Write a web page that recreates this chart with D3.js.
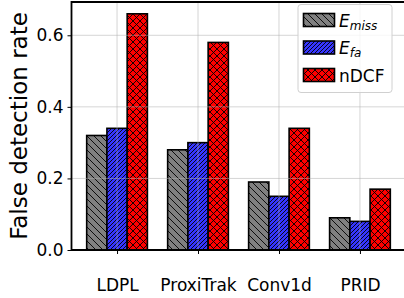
<!DOCTYPE html>
<html>
<head>
<meta charset="utf-8">
<script src="https://cdn.jsdelivr.net/npm/d3@7"></script>
<style>
  body { margin: 0; background: #fff; }
  svg { display: block; font-family: "DejaVu Sans", sans-serif; }
</style>
</head>
<body>
<div id="chart-area"></div>
<script>
// data
const categories = ["LDPL", "ProxiTrak", "Conv1d", "PRID"];
const eMiss = [0.32, 0.28, 0.19, 0.09];
const eFa = [0.34, 0.30, 0.15, 0.08];
const nDCF = [0.66, 0.58, 0.34, 0.17];
const yTicks = [0, 0.2, 0.4, 0.6];

const series = [
    {key: "miss", values: eMiss, fill: "#808080", hatch: "hatch-back"},
    {key: "fa", values: eFa, fill: "#3636ff", hatch: "hatch-fwd"},
    {key: "ndcf", values: nDCF, fill: "#ff0000", hatch: "hatch-cross"}
];

const width = 404,
    height = 298,
    barW = 0.25;

const svg = d3.select("#chart-area")
    .append("svg")
    .attr("width", width)
    .attr("height", height);

// hatch patterns
const defs = svg.append("defs");
function hatch(id, size, angles) {
    const p = defs.append("pattern")
        .attr("id", id)
        .attr("patternUnits", "userSpaceOnUse")
        .attr("width", size)
        .attr("height", size);
    angles.forEach(a => {
        const d = a > 0
            ? `M0,${size} L${size},0 M${-size / 2},${size / 2} L${size / 2},${-size / 2} M${size / 2},${size * 1.5} L${size * 1.5},${size / 2}`
            : `M0,0 L${size},${size} M${-size / 2},${size / 2} L${size / 2},${size * 1.5} M${size / 2},${-size / 2} L${size * 1.5},${size / 2}`;
        p.append("path").attr("d", d).attr("stroke", "#000").attr("stroke-width", 0.9).attr("fill", "none");
    });
}
hatch("hatch-back", 7, [-1]);
hatch("hatch-fwd", 4, [1]);
hatch("hatch-cross", 7, [1, -1]);

const x = d3.scaleLinear()
    .domain([-0.5625, categories.length - 1 + 0.5625])
    .range([71.5, 405.5]);

const y = d3.scaleLinear()
    .domain([0, 0.693])
    .range([250, 2]);

// bars
series.forEach((s, si) => {
    const g = svg.append("g");
    const off = (si - 1) * barW;
    g.selectAll("rect.fill")
        .data(s.values)
        .join("rect")
        .attr("x", (d, i) => x(i + off - barW / 2))
        .attr("y", d => y(d))
        .attr("width", x(barW) - x(0))
        .attr("height", d => y(0) - y(d))
        .attr("fill", s.fill);
    g.selectAll("rect.hatch")
        .data(s.values)
        .join("rect")
        .attr("x", (d, i) => x(i + off - barW / 2))
        .attr("y", d => y(d))
        .attr("width", x(barW) - x(0))
        .attr("height", d => y(0) - y(d))
        .attr("fill", `url(#${s.hatch})`)
        .attr("stroke", "#000")
        .attr("stroke-width", 1.6);
});

// grid on top, as in the original
const grid = svg.append("g")
    .attr("stroke", "#b0b0b0")
    .attr("stroke-opacity", 0.6)
    .attr("stroke-width", 0.9);
grid.selectAll("line.gy")
    .data(yTicks.slice(1))
    .join("line")
    .attr("x1", x.range()[0]).attr("x2", x.range()[1])
    .attr("y1", d => y(d)).attr("y2", d => y(d));
grid.selectAll("line.gx")
    .data(categories)
    .join("line")
    .attr("x1", (d, i) => x(i)).attr("x2", (d, i) => x(i))
    .attr("y1", y.range()[1]).attr("y2", y.range()[0]);

// axes
const yAxis = svg.append("g")
    .attr("transform", `translate(${x.range()[0]},0)`)
    .call(d3.axisLeft(y).tickValues(yTicks).tickFormat(d3.format(".1f")).tickSize(4).tickPadding(4));
const xAxis = svg.append("g")
    .attr("transform", `translate(0,${y(0)})`)
    .call(d3.axisBottom(x).tickValues(d3.range(categories.length)).tickFormat(i => categories[i]).tickSize(4).tickPadding(25));
[yAxis, xAxis].forEach(a => {
    a.select(".domain").remove();
    a.selectAll("text").attr("font-size", 17).attr("fill", "#000").attr("font-family", "DejaVu Sans");
    a.selectAll("line").attr("stroke", "#000").attr("stroke-width", 1);
});

// spines
svg.append("path")
    .attr("d", `M${x.range()[1]},${y.range()[1]} H${x.range()[0]} V${y.range()[0]} H${x.range()[1]}`)
    .attr("fill", "none")
    .attr("stroke", "#000")
    .attr("stroke-width", 1.8);

svg.append("text")
    .attr("transform", "translate(27,126) rotate(-90)")
    .attr("text-anchor", "middle")
    .attr("font-size", 23)
    .text("False detection rate");

// legend
const legend = svg.append("g");
legend.append("rect")
    .attr("x", 298).attr("y", 4.5)
    .attr("width", 94).attr("height", 88)
    .attr("rx", 3)
    .attr("fill", "#fff").attr("fill-opacity", 0.8)
    .attr("stroke", "#d0d0d0");
const labels = [["E", "miss"], ["E", "fa"], ["nDCF", null]];
series.forEach((s, i) => {
    const cy = 20 + i * 27.5;
    legend.append("rect")
        .attr("x", 303.5).attr("y", cy - 6.5)
        .attr("width", 31).attr("height", 13)
        .attr("fill", s.fill);
    legend.append("rect")
        .attr("x", 303.5).attr("y", cy - 6.5)
        .attr("width", 31).attr("height", 13)
        .attr("fill", `url(#${s.hatch})`)
        .attr("stroke", "#000").attr("stroke-width", 1.6);
    const t = legend.append("text")
        .attr("x", 339).attr("y", cy + 6.5)
        .attr("font-size", 17);
    if (labels[i][1]) {
        t.append("tspan").attr("font-style", "italic").text(labels[i][0]);
        t.append("tspan").attr("font-style", "italic").attr("font-size", 12).attr("dy", 3).text(labels[i][1]);
    } else {
        t.text(labels[i][0]);
    }
});
</script>
</body>
</html>
